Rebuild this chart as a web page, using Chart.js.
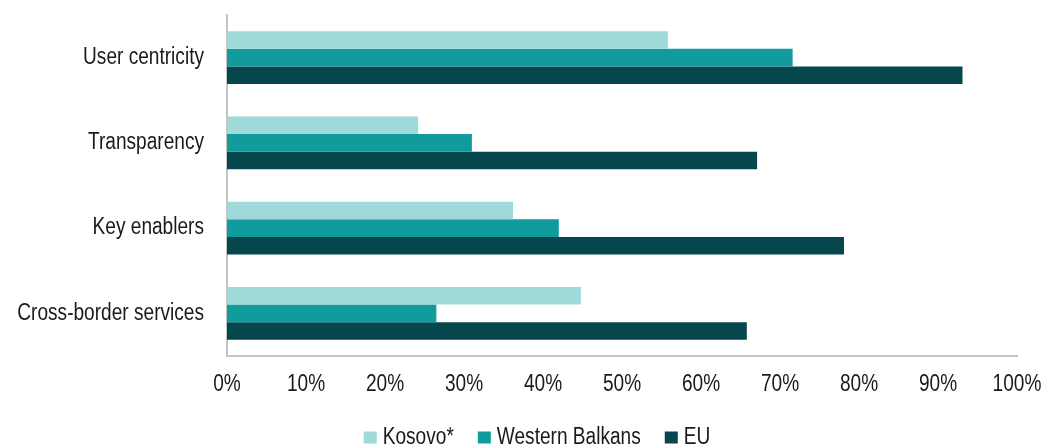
<!DOCTYPE html>
<html>
<head>
<meta charset="utf-8">
<script src="https://cdn.jsdelivr.net/npm/chart.js@4.4.1/dist/chart.umd.min.js"></script>
<style>
  html, body { margin: 0; padding: 0; background: #ffffff; }
  #wrap { width: 1042px; height: 446px; position: relative; }
</style>
</head>
<body>
<div id="wrap"><canvas id="chart" width="1042" height="446"></canvas></div>
<script>
// eGovernment benchmark scores by dimension
const categories = ['User centricity', 'Transparency', 'Key enablers', 'Cross-border services'];
const kosovo = [55.8, 24.2, 36.2, 44.8];
const westernBalkans = [71.6, 31.0, 42.0, 26.5];
const eu = [93.1, 67.1, 78.1, 65.8];
const seriesNames = ['Kosovo*', 'Western Balkans', 'EU'];
const tickValues = [0, 10, 20, 30, 40, 50, 60, 70, 80, 90, 100];

const COLORS = ['#9fd9da', '#119b9c', '#05474d'];
const FONT = "23px 'Liberation Sans', Arial, sans-serif";
const NARROW = 0.83;           // horizontal squeeze for a narrow typeface look
const TEXT = '#1a1a1a';
const AXIS = '#c4c4c4';

// Text drawn with a horizontally condensed width
function narrowText(ctx, text, x, y, align) {
  ctx.textAlign = align;
  const w = ctx.measureText(text).width * NARROW;
  ctx.fillText(text, x, y, w);
  return w;
}

// Axis labels placed from the chart's own scales
const axisLabels = {
  id: 'axisLabels',
  afterDraw(chart) {
    const ctx = chart.ctx;
    const xs = chart.scales.x, ys = chart.scales.y;
    ctx.save();
    ctx.font = FONT;
    ctx.fillStyle = TEXT;
    ctx.textBaseline = 'middle';
    ys.ticks.forEach((t, i) => {
      narrowText(ctx, ys.getLabelForValue(t.value), ys.right - 23, ys.getPixelForTick(i), 'right');
    });
    xs.ticks.forEach((t, i) => {
      narrowText(ctx, t.value + '%', xs.getPixelForTick(i), xs.top + 29, 'center');
    });
    ctx.restore();
  }
};

// Legend row under the axis: square swatch followed by its label
const bottomLegend = {
  id: 'bottomLegend',
  afterDraw(chart) {
    const ctx = chart.ctx;
    ctx.save();
    ctx.font = FONT;
    ctx.textBaseline = 'middle';
    const box = 13, textGap = 6, itemGap = 24;
    const items = chart.data.datasets.map(ds => ({
      label: ds.label, color: ds.backgroundColor,
      w: ctx.measureText(ds.label).width * NARROW
    }));
    const total = items.reduce((s, it) => s + box + textGap + it.w, 0) + itemGap * (items.length - 1);
    let x = 537 - total / 2;
    const cy = 437.5;
    items.forEach(it => {
      ctx.fillStyle = it.color;
      ctx.fillRect(x, cy - 6, box, 12);
      ctx.fillStyle = TEXT;
      narrowText(ctx, it.label, x + box + textGap, cy, 'left');
      x += box + textGap + it.w + itemGap;
    });
    ctx.restore();
  }
};

new Chart(document.getElementById('chart'), {
  type: 'bar',
  data: {
    labels: categories,
    datasets: [
      { label: seriesNames[0], data: kosovo, backgroundColor: COLORS[0] },
      { label: seriesNames[1], data: westernBalkans, backgroundColor: COLORS[1] },
      { label: seriesNames[2], data: eu, backgroundColor: COLORS[2] }
    ]
  },
  options: {
    indexAxis: 'y',
    responsive: false,
    animation: false,
    devicePixelRatio: 1,
    layout: { padding: { top: 15, right: 25, bottom: 0, left: 0 } },
    datasets: { bar: { categoryPercentage: 0.62, barPercentage: 1.0, borderWidth: 0 } },
    plugins: {
      legend: { display: false },
      tooltip: { enabled: false }
    },
    scales: {
      x: {
        min: 0, max: 100,
        afterBuildTicks(scale) { scale.ticks = tickValues.map(v => ({ value: v })); },
        afterFit(scale) { scale.height = 90; },
        grid: { display: false, drawTicks: false },
        border: { display: true, color: AXIS, width: 2 },
        ticks: { display: false }
      },
      y: {
        afterFit(scale) { scale.width = 227; },
        grid: { display: false, drawTicks: false },
        border: { display: true, color: AXIS, width: 2 },
        ticks: { display: false }
      }
    }
  },
  plugins: [axisLabels, bottomLegend]
});
</script>
</body>
</html>
